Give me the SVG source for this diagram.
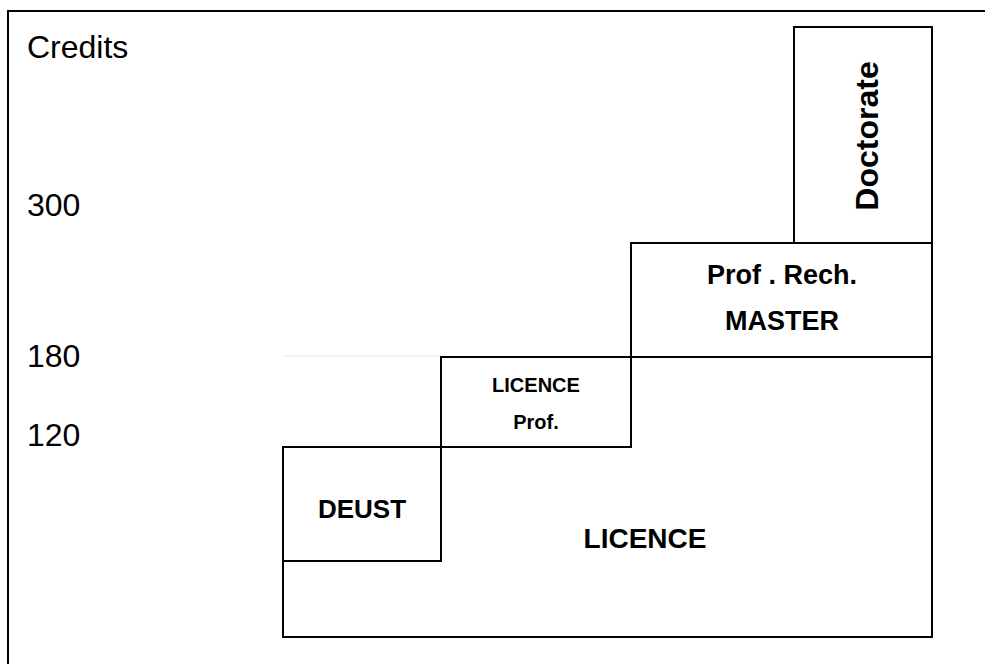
<svg xmlns="http://www.w3.org/2000/svg" width="985" height="664" viewBox="0 0 985 664">
<style>
.box{fill:#fff;stroke:#000;stroke-width:2}
.frame{fill:none;stroke:#000;stroke-width:2}
.axis{font-family:"Liberation Sans",Arial,sans-serif;font-size:32px;fill:#000}
.lbl{font-family:"Liberation Sans",Arial,sans-serif;font-weight:bold;fill:#000;text-anchor:middle}
</style>
<rect x="0" y="0" width="985" height="664" fill="#fff"/>
<path class="frame" d="M8,664 V11 H985"/>
<g id="axis-labels">
<text class="axis" x="27" y="58">Credits</text>
<text class="axis" x="27" y="216">300</text>
<text class="axis" x="27" y="367">180</text>
<text class="axis" x="27" y="446">120</text>
</g>
<g id="connectors">
<line x1="283" y1="356" x2="441" y2="356" stroke="#ececec" stroke-width="1.5"/>
</g>
<g id="licence">
<polygon class="box" points="441,357 932,357 932,637 283,637 283,447 441,447"/>
<text class="lbl" x="645" y="548" font-size="28">LICENCE</text>
</g>
<g id="deust">
<rect class="box" x="283" y="447" width="158" height="114"/>
<text class="lbl" x="362" y="518" font-size="26">DEUST</text>
</g>
<g id="licence-prof">
<rect class="box" x="441" y="357" width="190" height="90"/>
<text class="lbl" x="536" y="392" font-size="20">LICENCE</text>
<text class="lbl" x="536" y="429" font-size="20">Prof.</text>
</g>
<g id="master">
<rect class="box" x="631" y="243" width="301" height="114"/>
<text class="lbl" x="782" y="284" font-size="27">Prof . Rech.</text>
<text class="lbl" x="782" y="330" font-size="27">MASTER</text>
</g>
<g id="doctorate">
<rect class="box" x="794" y="27" width="138" height="216"/>
<text class="lbl" transform="translate(878,136) rotate(-90)" font-size="32">Doctorate</text>
</g>
</svg>
